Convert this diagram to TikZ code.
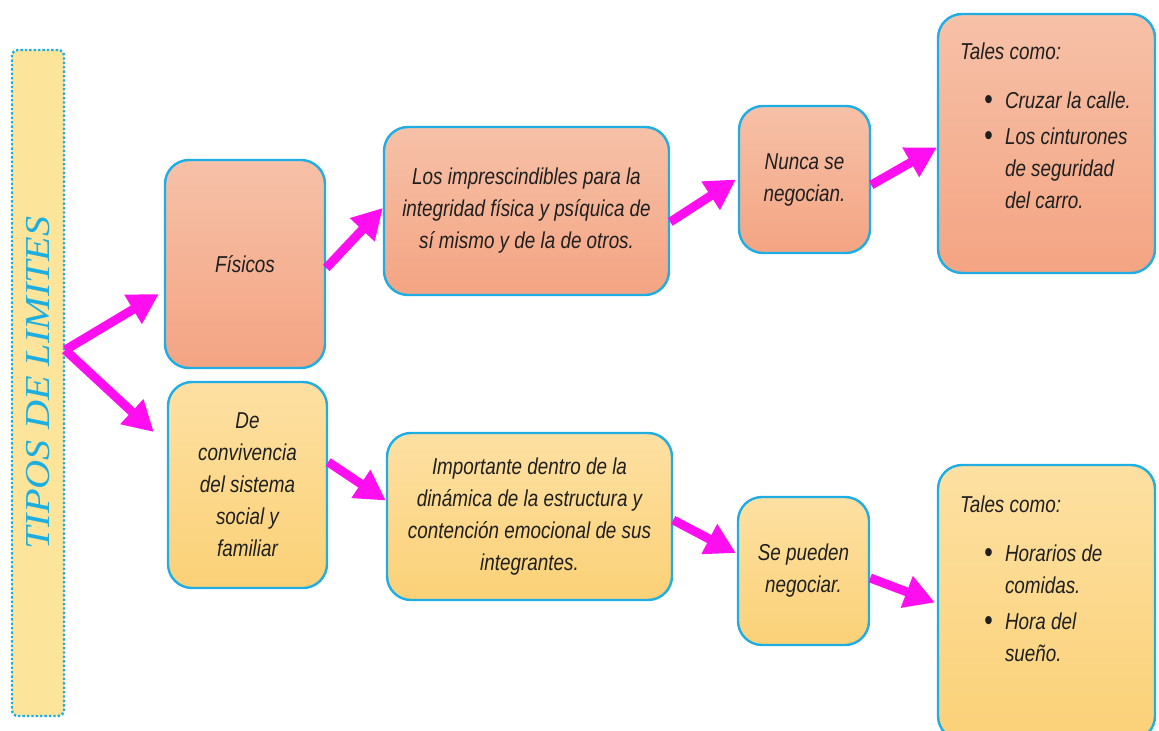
\documentclass[tikz,border=0pt]{standalone}
\usepackage{fontspec}
\setmainfont{Liberation Sans}[FakeStretch=0.82]
\newfontfamily\titlefont{Liberation Serif}[FakeStretch=1.15]
\usetikzlibrary{arrows.meta}
\usepackage{xcolor}

\definecolor{boxline}{HTML}{1EAEE3}
\definecolor{salmontop}{HTML}{F6C1A8}
\definecolor{salmonbot}{HTML}{F4A482}
\definecolor{sandtop}{HTML}{FDE0A2}
\definecolor{sandbot}{HTML}{FBD177}
\definecolor{titlefill}{HTML}{FDE49B}
\definecolor{titletext}{HTML}{1AAFE0}
\definecolor{arrowpink}{HTML}{FF0FEF}

\newcommand{\bulletline}[1]{\par\vspace{2pt}\noindent\hangindent=33.5pt\hspace*{23pt}%
  \makebox[10.5pt][l]{\raisebox{-0.4pt}{\scalebox{1.3}{\textbullet}}}#1}

\tikzset{
  card/.style={draw=boxline, line width=1.2pt, rounded corners=12pt, align=center,
    font=\itshape\fontsize{11.5}{16}\selectfont, text=black!88},
  upper/.style={card, top color=salmontop, bottom color=salmonbot},
  lower/.style={card, top color=sandtop, bottom color=sandbot},
  titlebox/.style={draw=boxline, densely dotted, line width=1.2pt, fill=titlefill,
    rounded corners=3pt, text=titletext, inner sep=0pt},
  link/.style={-{Triangle[length=15pt,width=16pt]}, line width=4.5pt, arrowpink}
}

\begin{document}
\begin{tikzpicture}[x=0.5pt,y=-0.5pt]
\useasboundingbox (0,0) rectangle (1159,731);

% title column
\node[titlebox, minimum width=26pt, minimum height=333pt] (tipos) at (38,383)
  {\rotatebox{90}{\titlefont\itshape\fontsize{17.5}{21}\selectfont TIPOS DE LIMITES}};
\coordinate (fork) at ([yshift=16.5pt]tipos.east);

% upper row
\node[upper, minimum width=80pt, minimum height=104pt] (fisicos) at (245,264) {Físicos};
\node[upper, minimum width=142.5pt, minimum height=84pt] (imprescindibles) at (526.5,211)
  {Los imprescindibles para la\\integridad física y psíquica de\\sí mismo y de la de otros.};
\node[upper, minimum width=65.5pt, minimum height=73.5pt] (nunca) at (804.5,179.5) {Nunca se\\negocian.};
\node[upper, inner sep=0pt] (ejemplos1) at (1046.5,143.5)
  {\parbox[c][129.5pt][t]{108.5pt}{\raggedright\vspace*{14.5pt}\hspace*{11pt}Tales como:\par\vspace{6.5pt}%
   \bulletline{Cruzar la calle.}\bulletline{Los cinturones\newline de seguridad\newline del carro.}}};

% lower row
\node[lower, minimum width=79.5pt, minimum height=103pt] (convivencia) at (247.5,485)
  {De\\convivencia\\del sistema\\social y\\familiar};
\node[lower, minimum width=142.5pt, minimum height=83.5pt] (importante) at (529.5,516.5)
  {Importante dentro de la\\dinámica de la estructura y\\contención emocional de sus\\integrantes.};
\node[lower, minimum width=65.5pt, minimum height=74pt] (negociables) at (803.5,571) {Se pueden\\negociar.};
\node[lower, inner sep=0pt] (ejemplos2) at (1046.5,602.5)
  {\parbox[c][137.5pt][t]{108.5pt}{\raggedright\vspace*{15.5pt}\hspace*{11pt}Tales como:\par\vspace{6.5pt}%
   \bulletline{Horarios de\newline comidas.}\bulletline{Hora del\newline sueño.}}};

% arrows
\draw[link] (fork) -- ([yshift=-15pt,xshift=-2.5pt]fisicos.west);
\draw[link] (fork) -- ([yshift=26.5pt,xshift=-6.5pt]convivencia.west);
\draw[link] ([yshift=-2pt]fisicos.east) -- ([yshift=1.5pt]imprescindibles.west);
\draw[link] ([yshift=-5.5pt]imprescindibles.east) -- ([xshift=-1pt]nunca.west);
\draw[link] ([yshift=-2.75pt]nunca.east) -- ([yshift=-2pt]ejemplos1.west);
\draw[link] ([yshift=11.5pt]convivencia.east) -- ([yshift=8pt]importante.west);
\draw[link] ([yshift=-1.75pt]importante.east) -- ([yshift=9pt,xshift=-0.5pt]negociables.west);
\draw[link] ([yshift=-3.5pt]negociables.east) -- ([xshift=-1pt]ejemplos2.west);
\end{tikzpicture}
\end{document}
